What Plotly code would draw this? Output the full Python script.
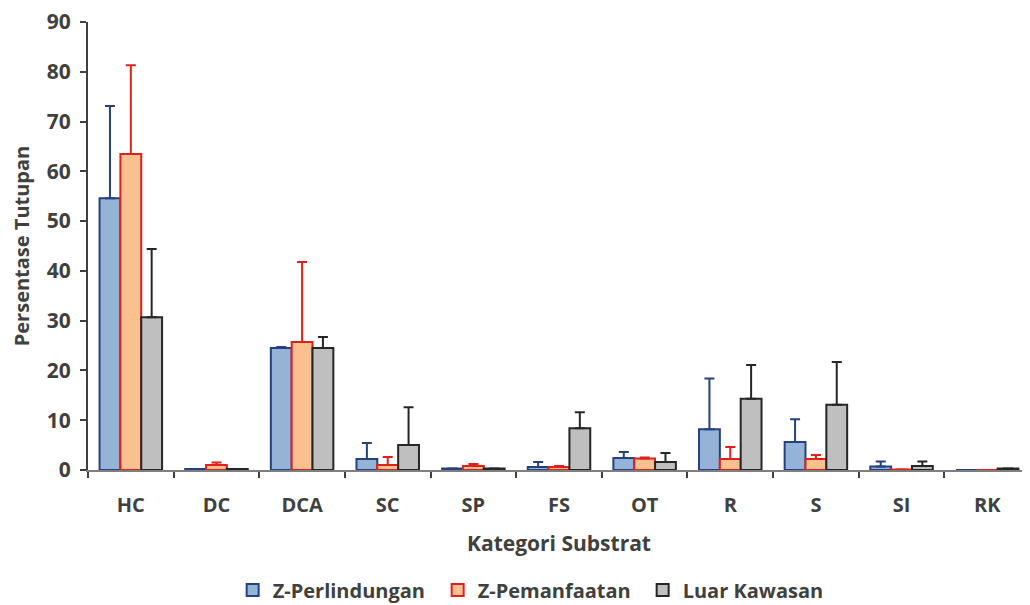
import plotly.graph_objects as go

categories = ["HC", "DC", "DCA", "SC", "SP", "FS", "OT", "R", "S", "SI", "RK"]

perlindungan = [54.6, 0.2, 24.5, 2.2, 0.3, 0.6, 2.4, 8.2, 5.6, 0.7, 0.0]
perlindungan_err = [18.5, 0.0, 0.2, 3.2, 0.0, 1.0, 1.2, 10.2, 4.6, 1.0, 0.0]

pemanfaatan = [63.5, 1.0, 25.7, 1.0, 0.8, 0.6, 2.3, 2.2, 2.2, 0.1, 0.0]
pemanfaatan_err = [17.8, 0.5, 16.1, 1.6, 0.4, 0.2, 0.2, 2.4, 0.8, 0.0, 0.0]

luar = [30.7, 0.2, 24.5, 5.0, 0.3, 8.4, 1.6, 14.3, 13.1, 0.8, 0.3]
luar_err = [13.7, 0.0, 2.2, 7.6, 0.0, 3.2, 1.8, 6.8, 8.6, 0.9, 0.0]

series = [
    ("Z-Perlindungan", perlindungan, perlindungan_err, "#95B3D7", "#23427F"),
    ("Z-Pemanfaatan", pemanfaatan, pemanfaatan_err, "#FAC090", "#E0201B"),
    ("Luar Kawasan", luar, luar_err, "#BFBFBF", "#262626"),
]

FONT = "Open Sans"
TXT = "#404040"

fig = go.Figure()
for name, vals, err, fill, edge in series:
    fig.add_trace(go.Bar(
        x=categories, y=vals, name=name,
        marker=dict(color=fill, line=dict(color=edge, width=2)),
        error_y=dict(type="data", symmetric=False, array=err,
                     arrayminus=[0] * len(err), color=edge,
                     thickness=2, width=5),
    ))

fig.update_layout(
    width=1022, height=597,
    margin=dict(l=80, r=0, t=14, b=135, autoexpand=False),
    paper_bgcolor="white", plot_bgcolor="white",
    barmode="group", bargap=0.27, bargroupgap=0,
    font=dict(family=FONT, color=TXT),
    legend=dict(orientation="h", x=0.48, xanchor="center", y=-0.268,
                yanchor="middle",
                font=dict(family=FONT, size=20, color=TXT, weight="bold"),
                itemwidth=30, entrywidth=160, entrywidthmode="pixels",
                traceorder="normal"),
    showlegend=True,
)
fig.update_xaxes(
    automargin=False,
    showline=True, linecolor="#7f7f7f", linewidth=2,
    ticks="outside", tickson="boundaries", ticklen=6, tickcolor="#404040",
    tickwidth=2,
    tickfont=dict(family=FONT, size=20, color=TXT, weight="bold"),
    ticklabelstandoff=16,
    title=dict(text="Kategori Substrat", standoff=19,
               font=dict(family=FONT, size=21, color=TXT, weight="bold")),
    showgrid=False, range=[-0.5, 10.5],
)
fig.update_yaxes(
    automargin=False,
    range=[0, 90], dtick=10, showline=True, linecolor="#404040", linewidth=2,
    ticks="outside", ticklen=6, tickcolor="#404040", tickwidth=2,
    tickfont=dict(family=FONT, size=21, color=TXT, weight="bold"),
    ticklabelstandoff=5, ticklabeloverflow="allow",
    showgrid=False, zeroline=False,
    title=dict(text="Persentase Tutupan", standoff=14,
               font=dict(family=FONT, size=20, color=TXT, weight="bold")),
)

fig.write_html("out.html")
